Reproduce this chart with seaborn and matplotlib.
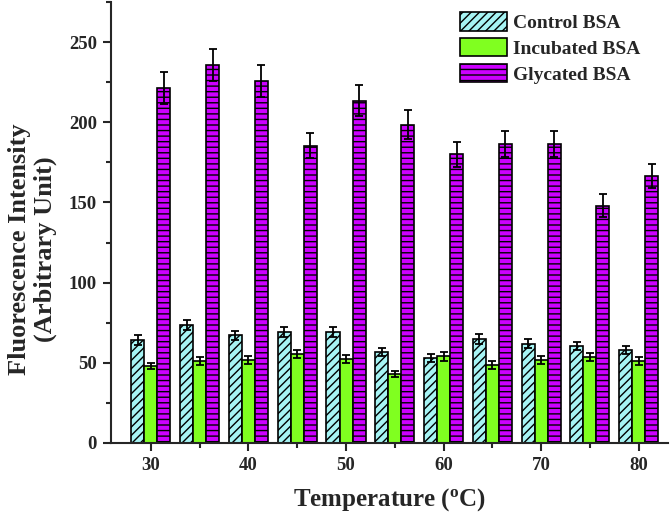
import numpy as np
import pandas as pd
import matplotlib
matplotlib.use("Agg")
import matplotlib.pyplot as plt
import seaborn as sns
from matplotlib.patches import Patch
from matplotlib.ticker import MultipleLocator

# Data
temperatures = [30, 35, 40, 45, 50, 55, 60, 65, 70, 75, 80]
control = [64, 73.5, 67, 69, 69, 57, 53, 65, 62, 60.5, 58]
control_err = [3, 3, 3, 3, 3, 2.5, 2.5, 3, 3, 2.5, 2.5]
incubated = [48, 51, 51.5, 55.5, 52.5, 43, 54, 48.5, 51.5, 53.5, 51]
incubated_err = [2, 2.5, 2.5, 2.5, 2.5, 2, 3, 2.5, 2.5, 2.5, 2.5]
glycated = [221.5, 235.5, 225.5, 185.5, 213.5, 198.5, 180, 186.5, 186.5, 148, 166.5]
glycated_err = [10, 10, 10, 8, 9.5, 9, 8, 8, 8, 7, 7.5]

series = ["Control BSA", "Incubated BSA", "Glycated BSA"]
colors = ["#a6f4f4", "#80ff20", "#cc00ff"]
hatches = ["////", "", "---"]

df = pd.DataFrame({
    "Temperature": temperatures * 3,
    "Intensity": control + incubated + glycated,
    "Sample": [s for s in series for _ in temperatures],
})
errors = [control_err, incubated_err, glycated_err]

sns.set_style("ticks")
plt.rcParams["font.family"] = ["Liberation Serif", "DejaVu Serif"]
plt.rcParams["font.weight"] = "bold"
plt.rcParams["hatch.linewidth"] = 1.0
plt.rcParams["mathtext.fontset"] = "custom"
plt.rcParams["mathtext.rm"] = "Liberation Serif:bold"
plt.rcParams["mathtext.it"] = "Liberation Serif:bold"

fig = plt.figure(figsize=(6.72, 5.15), dpi=100)
ax = fig.add_axes([0.165, 0.14, 0.829, 0.856])

sns.barplot(data=df, x="Temperature", y="Intensity", hue="Sample",
            hue_order=series, palette=colors, native_scale=True,
            width=0.8, saturation=1, errorbar=None, edgecolor="black",
            linewidth=1.2, legend=False, ax=ax)

# hatches and error bars
for container, hatch, err in zip(ax.containers, hatches, errors):
    xs, ys = [], []
    for bar in container:
        bar.set_hatch(hatch)
        xs.append(bar.get_x() + bar.get_width() / 2)
        ys.append(bar.get_height())
    ax.errorbar(xs, ys, yerr=err, fmt="none", ecolor="black",
                elinewidth=1.3, capsize=2.8, capthick=1.3, zorder=5)

ax.set_xlim(25.9, 83)
ax.set_ylim(0, 275)
ax.xaxis.set_major_locator(MultipleLocator(10))
ax.xaxis.set_minor_locator(MultipleLocator(5))
ax.yaxis.set_major_locator(MultipleLocator(50))
ax.yaxis.set_minor_locator(MultipleLocator(25))
ax.tick_params(which="major", direction="out", length=6, width=1.5,
               labelsize=13.5, pad=4)
ax.tick_params(which="minor", direction="out", length=3.5, width=1.5)
for lab in ax.get_xticklabels() + ax.get_yticklabels():
    lab.set_fontweight("bold")

for side in ["top", "right"]:
    ax.spines[side].set_visible(False)
for side in ["left", "bottom"]:
    ax.spines[side].set_linewidth(1.5)

ax.set_xlabel(r"Temperature ($\mathregular{^{o}}$C)", fontsize=18,
              fontweight="bold", labelpad=9)
ax.set_ylabel("Fluorescence Intensity\n(Arbitrary Unit)", fontsize=19,
              fontweight="bold", linespacing=1.12)
ax.yaxis.set_label_coords(-0.097, 0.44)

handles = [Patch(facecolor=c, edgecolor="black", hatch=h, linewidth=1.2)
           for c, h in zip(colors, hatches)]
ax.legend(handles, series, loc="upper left", bbox_to_anchor=(0.612, 0.995),
          frameon=False, prop={"size": 14, "weight": "bold"},
          handlelength=2.45, handleheight=1.1, handletextpad=0.3,
          labelspacing=0.3, borderaxespad=0.1, borderpad=0.3)

fig.savefig("out.png", dpi=100)
